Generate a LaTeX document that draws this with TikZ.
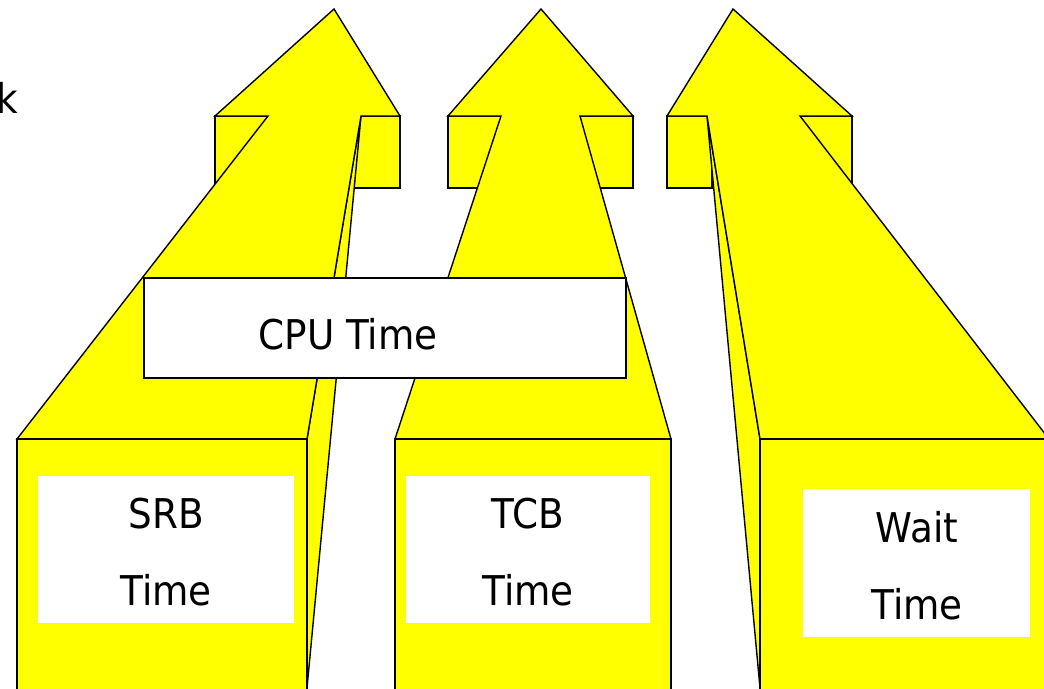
\documentclass[tikz,border=0pt]{standalone}
\usepackage{fontspec}
\setmainfont{DejaVu Sans}[FakeStretch=0.91]
\definecolor{ylw}{RGB}{255,255,0}
\begin{document}
\begin{tikzpicture}[x=1pt,y=-1pt,
  face/.style={fill=ylw, draw=black, line width=1.4pt, line join=miter},
  plate/.style={fill=white, draw=none},
  txt/.style={font=\fontsize{41}{49}\selectfont, anchor=base, inner sep=0pt}]
\useasboundingbox (0,0) rectangle (1044,688);
\clip (0,0) rectangle (1044,688);
% ---- arrow 1 (SRB)
\filldraw[face] (215,116) rectangle (268,188);
\filldraw[face] (354,116) rectangle (400,188);
\filldraw[face] (361,116) -- (307,439) -- (307,688) -- cycle;
\filldraw[face] (334,9) -- (400,116) -- (361,116) -- (307,439) -- (17,439) -- (268,116) -- (215,116) -- cycle;
\filldraw[face] (17,439) rectangle (307,700);
\fill[plate] (38,476) rectangle (294,623);
\node[txt] (srb1) at (166,528) {SRB};
\node[txt] (srb2) at (166,605) {Time};
% ---- arrow 2 (TCB)
\filldraw[face] (448,116) rectangle (501,188);
\filldraw[face] (580,116) rectangle (633,188);
\filldraw[face] (541,9) -- (633,116) -- (580,116) -- (671,439) -- (395,439) -- (501,116) -- (448,116) -- cycle;
\filldraw[face] (395,439) rectangle (671,700);
\fill[plate] (406,476) rectangle (650,623);
\node[txt] (tcb1) at (528,528) {TCB};
\node[txt] (tcb2) at (528,605) {Time};
% ---- arrow 3 (Wait)
\filldraw[face] (667,116) rectangle (712,188);
\filldraw[face] (800,116) rectangle (852,188);
\filldraw[face] (707,116) -- (760,439) -- (760,688) -- cycle;
\filldraw[face] (733,9) -- (852,116) -- (800,116) -- (1049,439) -- (760,439) -- (707,116) -- (667,116) -- cycle;
\filldraw[face] (760,439) rectangle (1060,700);
\fill[plate] (803,489) rectangle (1030,637);
\node[txt] (wait1) at (917,542) {Wait};
\node[txt] (wait2) at (917,619) {Time};
% ---- CPU time box
\filldraw[fill=white, draw=black, line width=1.4pt] (144,278) rectangle (626,378);
\node[txt] (cpu) at (348,349) {CPU Time};
% ---- cut-off text
\node[txt, anchor=base east] (k) at (18,113) {k};
\end{tikzpicture}
\end{document}
